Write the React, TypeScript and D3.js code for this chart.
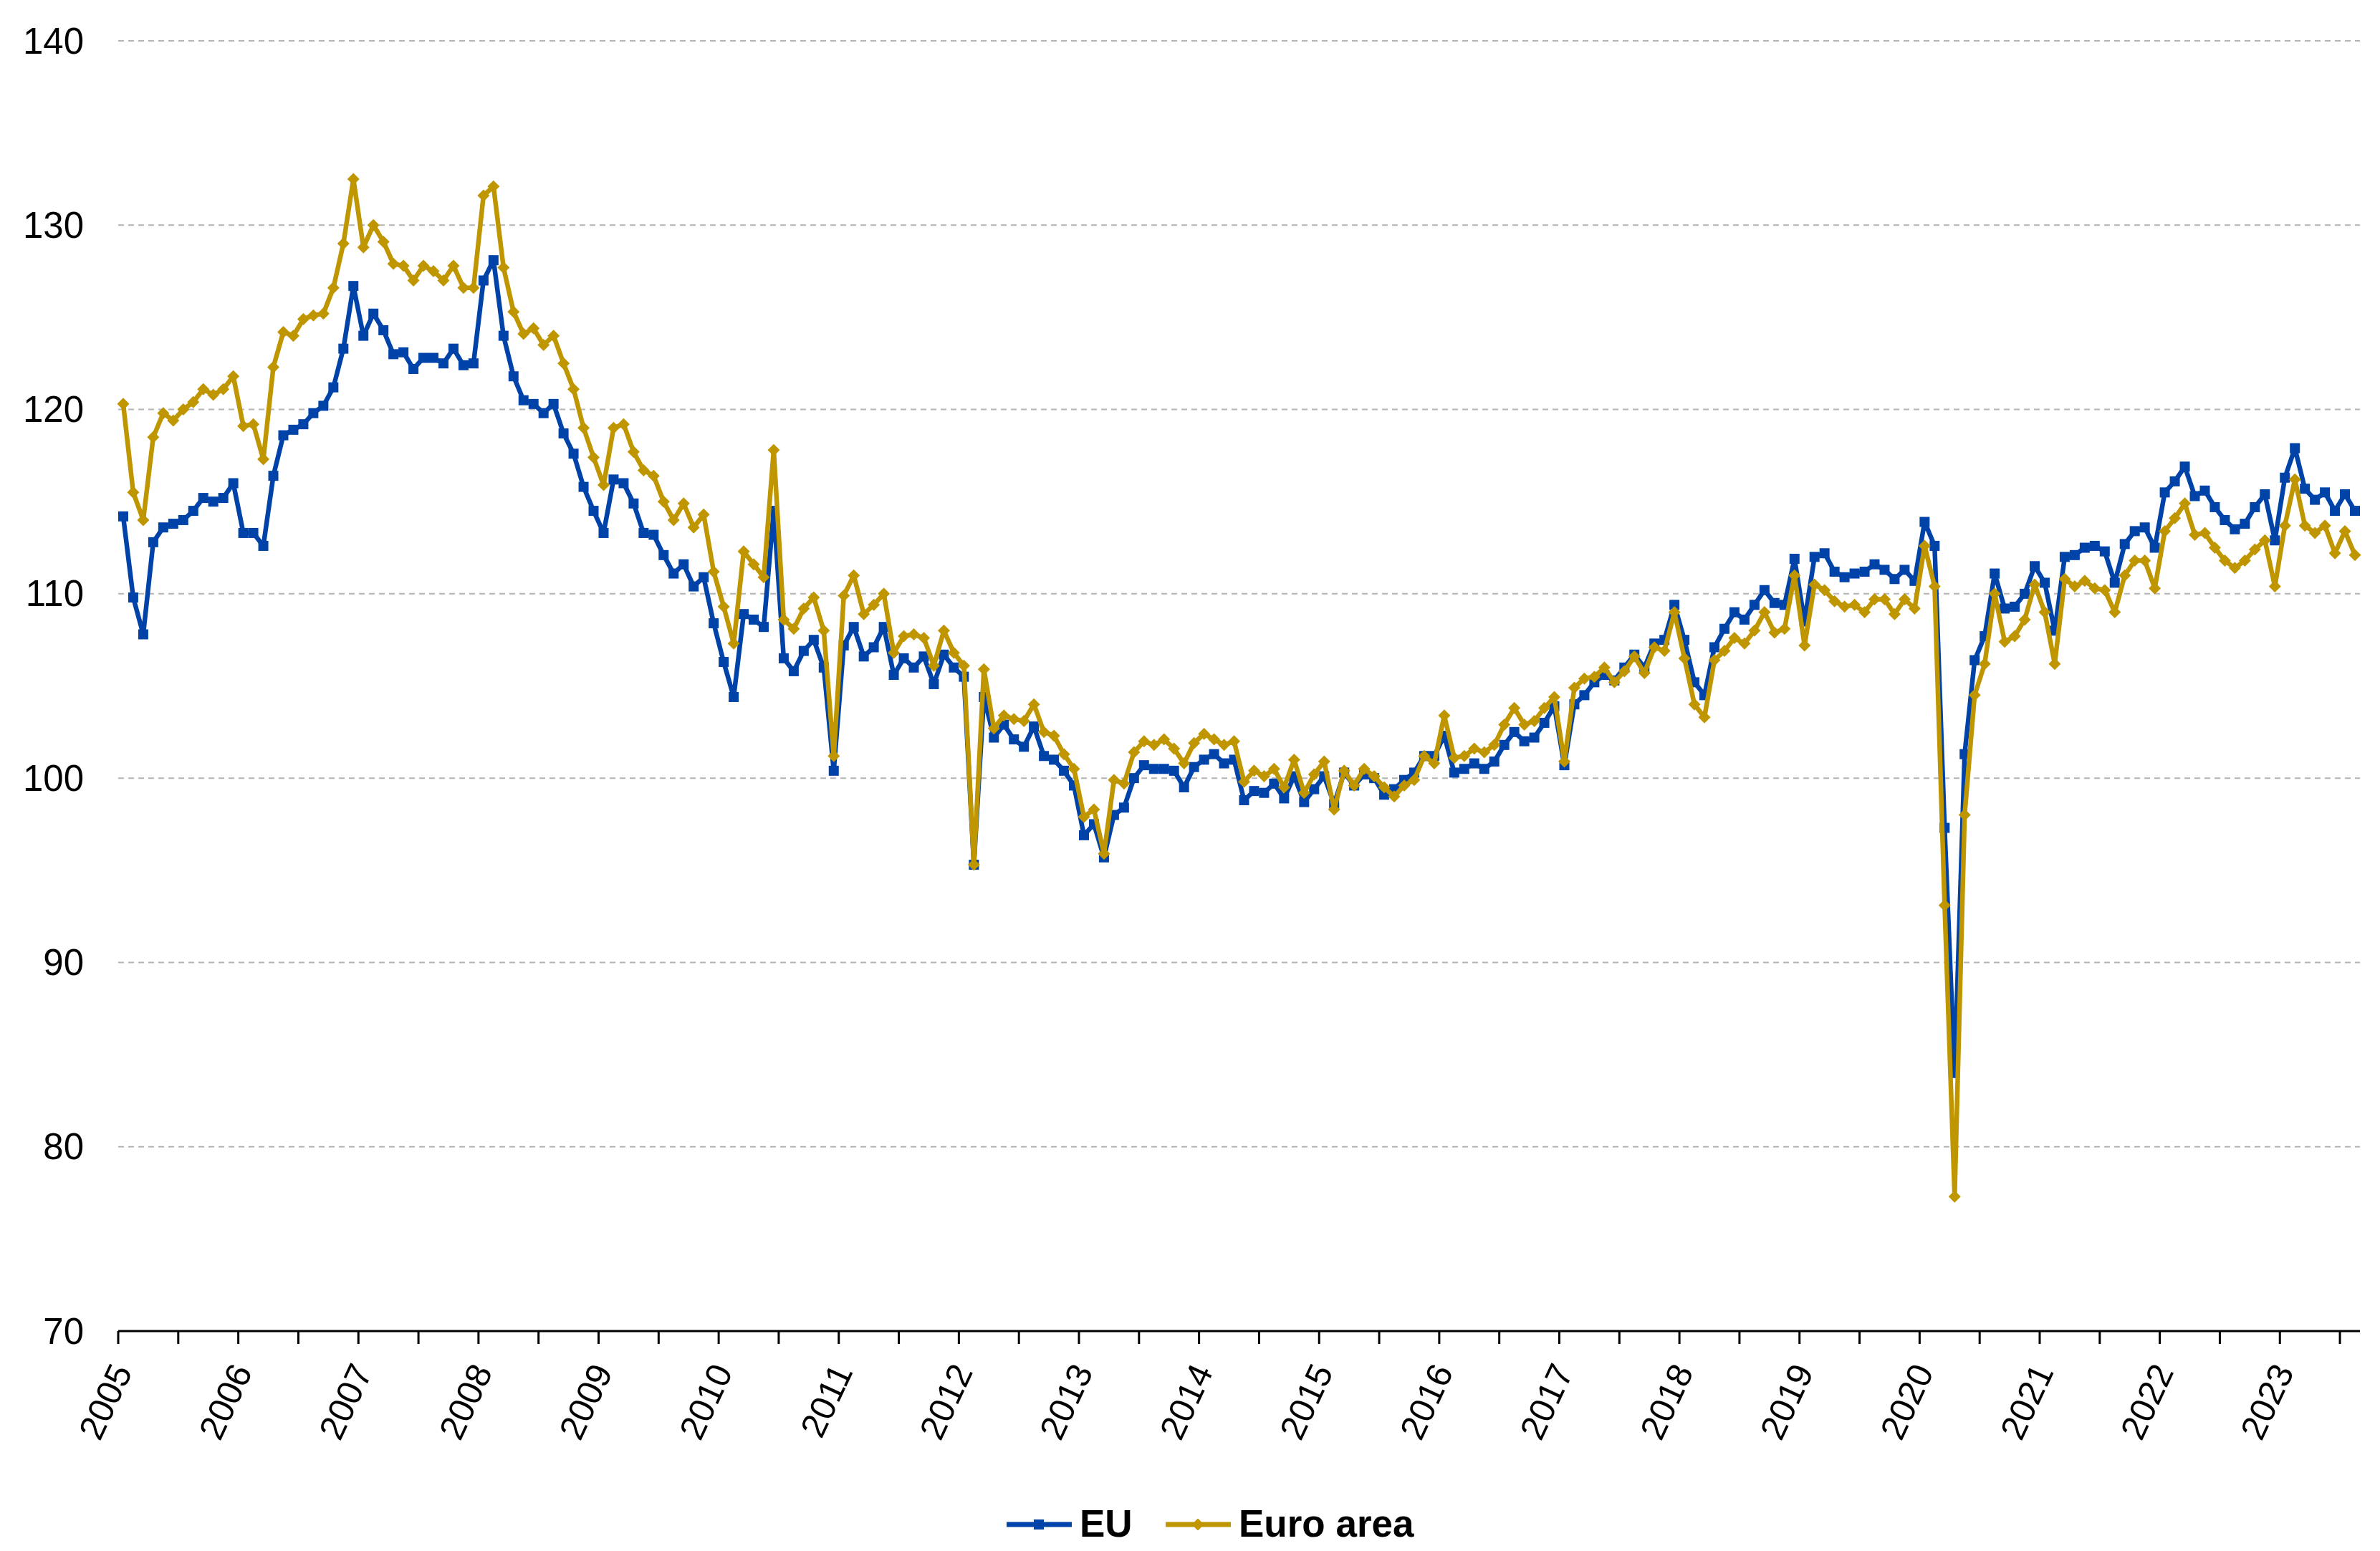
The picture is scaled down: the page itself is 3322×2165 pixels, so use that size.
import React from 'react';
import * as d3 from 'd3';

// monthly index, Jan 2005 .. Aug 2023
const EU = [
  114.2, 109.8, 107.8, 112.8, 113.6, 113.8, 114.0, 114.5, 115.2, 115.0, 115.2, 116.0,
  113.3, 113.3, 112.6, 116.4, 118.6, 118.9, 119.2, 119.8, 120.2, 121.2, 123.3, 126.7,
  124.0, 125.2, 124.3, 123.0, 123.1, 122.2, 122.8, 122.8, 122.5, 123.3, 122.4, 122.5,
  127.0, 128.1, 124.0, 121.8, 120.5, 120.3, 119.8, 120.3, 118.7, 117.6, 115.8, 114.5,
  113.3, 116.2, 116.0, 114.9, 113.3, 113.2, 112.1, 111.1, 111.6, 110.4, 110.9, 108.4,
  106.3, 104.4, 108.9, 108.6, 108.2, 114.5, 106.5, 105.8, 106.9, 107.5, 106.0, 100.4,
  107.2, 108.2, 106.6, 107.1, 108.2, 105.6, 106.5, 106.0, 106.6, 105.1, 106.7, 106.0,
  105.5, 95.3, 104.4, 102.2, 102.9, 102.1, 101.7, 102.8, 101.2, 101.0, 100.4, 99.6,
  96.9, 97.5, 95.7, 98.0, 98.4, 100.0, 100.7, 100.5, 100.5, 100.4, 99.5, 100.6,
  101.0, 101.3, 100.8, 101.0, 98.8, 99.3, 99.2, 99.7, 98.9, 100.1, 98.7, 99.4,
  100.1, 98.6, 100.3, 99.6, 100.2, 100.0, 99.1, 99.4, 99.9, 100.3, 101.2, 101.2,
  102.3, 100.3, 100.5, 100.8, 100.5, 100.9, 101.8, 102.5, 102.0, 102.2, 103.0, 103.9,
  100.7, 104.0, 104.5, 105.2, 105.6, 105.3, 106.0, 106.7, 106.0, 107.3, 107.5, 109.4,
  107.5, 105.2, 104.5, 107.1, 108.1, 109.0, 108.6, 109.4, 110.2, 109.5, 109.4, 111.9,
  108.5, 112.0, 112.2, 111.2, 110.9, 111.1, 111.2, 111.6, 111.3, 110.8, 111.3, 110.7,
  113.9, 112.6, 97.3, 84.0, 101.3, 106.4, 107.7, 111.1, 109.2, 109.3, 110.0, 111.5,
  110.6, 108.0, 112.0, 112.1, 112.5, 112.6, 112.3, 110.6, 112.7, 113.4, 113.6, 112.5,
  115.5, 116.1, 116.9, 115.3, 115.6, 114.7, 114.0, 113.5, 113.8, 114.7, 115.4, 112.9,
  116.3, 117.9, 115.7, 115.1, 115.5, 114.5, 115.4, 114.5,
];

const EURO_AREA = [
  120.3, 115.5, 114.0, 118.5, 119.8, 119.4, 120.0, 120.4, 121.1, 120.8, 121.1, 121.8,
  119.1, 119.2, 117.3, 122.3, 124.2, 124.0, 124.9, 125.1, 125.2, 126.6, 129.0, 132.5,
  128.8, 130.0, 129.1, 127.9, 127.8, 127.0, 127.8, 127.5, 127.0, 127.8, 126.6, 126.6,
  131.6, 132.1, 127.7, 125.3, 124.1, 124.4, 123.5, 124.0, 122.5, 121.1, 119.0, 117.4,
  115.9, 119.0, 119.2, 117.7, 116.7, 116.4, 115.0, 114.0, 114.9, 113.6, 114.3, 111.2,
  109.3, 107.3, 112.3, 111.6, 110.9, 117.8, 108.6, 108.1, 109.2, 109.8, 108.0, 101.2,
  109.9, 111.0, 108.9, 109.4, 110.0, 106.8, 107.7, 107.8, 107.6, 106.1, 108.0, 106.8,
  106.1, 95.3, 105.9, 102.7, 103.4, 103.2, 103.1, 104.0, 102.5, 102.3, 101.3, 100.5,
  97.9, 98.3, 95.9, 99.9, 99.7, 101.4, 102.0, 101.8, 102.1, 101.6, 100.8, 101.9,
  102.4, 102.1, 101.8, 102.0, 99.8, 100.4, 100.1, 100.5, 99.5, 101.0, 99.2, 100.2,
  100.9, 98.3, 100.4, 99.6, 100.5, 100.1, 99.5, 99.0, 99.6, 99.9, 101.2, 100.8,
  103.4, 101.1, 101.2, 101.6, 101.4, 101.8, 102.9, 103.8, 102.9, 103.1, 103.8, 104.4,
  100.9, 104.9, 105.4, 105.5, 106.0, 105.2, 105.8, 106.6, 105.7, 107.1, 106.9, 109.0,
  106.5, 104.0, 103.3, 106.4, 106.9, 107.6, 107.3, 108.0, 109.0, 107.9, 108.1, 111.0,
  107.2, 110.5, 110.2, 109.6, 109.3, 109.4, 109.0, 109.7, 109.7, 108.9, 109.7, 109.2,
  112.6, 110.4, 93.1, 77.3, 98.0, 104.5, 106.2, 110.0, 107.4, 107.7, 108.6, 110.5,
  109.0, 106.2, 110.8, 110.4, 110.7, 110.3, 110.2, 109.0, 111.0, 111.8, 111.8, 110.3,
  113.4, 114.1, 114.9, 113.2, 113.3, 112.5, 111.8, 111.4, 111.8, 112.4, 112.9, 110.4,
  113.7, 116.2, 113.7, 113.3, 113.7, 112.2, 113.4, 112.1,
];

const YEAR_LABELS = ['2005', '2006', '2007', '2008', '2009', '2010', '2011', '2012', '2013',
  '2014', '2015', '2016', '2017', '2018', '2019', '2020', '2021', '2022', '2023'];
const Y_TICKS = [70, 80, 90, 100, 110, 120, 130, 140];

const W = 3322;
const H = 2165;
const left = 165;
const right = 3294;
const top = 57;
const bottom = 1858;

const BLUE = '#0043A8';
const GOLD = '#BF9500';
const FONT = '"Liberation Sans", Arial, sans-serif';
const DIAMOND = 'M0,-8.5L8.5,0L0,8.5L-8.5,0Z';

export default function App() {
  const x = d3.scaleBand<number>()
    .domain(d3.range(EU.length))
    .range([left, right])
    .padding(0);
  const cx = (i: number) => (x(i) as number) + x.bandwidth() / 2;
  const y = d3.scaleLinear().domain([70, 140]).range([bottom, top]);

  const line = d3.line<number>()
    .x((_, i) => cx(i))
    .y(d => y(d));

  const tickIdx = d3.range(0, EU.length + 1, 6);
  const tickX = (i: number) => (i < EU.length ? (x(i) as number) : right);

  return (
    <svg width={W} height={H} style={{ position: 'absolute', left: 0, top: 0, background: '#fff' }}
      fontFamily={FONT}>
      {/* gridlines */}
      {Y_TICKS.filter(t => t > 70).map(t => (
        <line key={t} x1={left} x2={right} y1={y(t)} y2={y(t)}
          stroke="#B4B4B4" strokeWidth={2} strokeDasharray="8,6" />
      ))}
      {Y_TICKS.map(t => (
        <text key={'yl' + t} x={117} y={y(t)} textAnchor="end" dominantBaseline="central"
          fontSize={51} fill="#000">{t}</text>
      ))}

      {/* x axis */}
      <line x1={left} x2={right} y1={bottom} y2={bottom} stroke="#000" strokeWidth={3} />
      {tickIdx.map(i => (
        <line key={'t' + i} x1={tickX(i)} x2={tickX(i)} y1={bottom} y2={bottom + 18}
          stroke="#000" strokeWidth={3} />
      ))}
      {YEAR_LABELS.map((lab, k) => {
        const tx = x(k * 12) as number;
        return (
          <text key={lab} transform={`translate(${tx + 5},${bottom + 49}) rotate(-65)`}
            textAnchor="end" dominantBaseline="central" fontSize={49} fill="#000">{lab}</text>
        );
      })}

      {/* EU */}
      <path d={line(EU) || ''} fill="none" stroke={BLUE} strokeWidth={6.5} strokeLinejoin="round" />
      {EU.map((v, i) => (
        <rect key={'e' + i} x={cx(i) - 7} y={y(v) - 7} width={14} height={14} fill={BLUE} />
      ))}

      {/* Euro area */}
      <path d={line(EURO_AREA) || ''} fill="none" stroke={GOLD} strokeWidth={6.5} strokeLinejoin="round" />
      {EURO_AREA.map((v, i) => (
        <path key={'a' + i} transform={`translate(${cx(i)},${y(v)})`} d={DIAMOND} fill={GOLD} />
      ))}

      {/* legend */}
      <g>
        <line x1={1405} x2={1496} y1={2128} y2={2128} stroke={BLUE} strokeWidth={7} />
        <rect x={1443} y={2121} width={14} height={14} fill={BLUE} />
        <text x={1507} y={2126} dominantBaseline="central" fontSize={53} fontWeight="bold">EU</text>
        <line x1={1627} x2={1718} y1={2128} y2={2128} stroke={GOLD} strokeWidth={7} />
        <path transform="translate(1672,2128)" d={DIAMOND} fill={GOLD} />
        <text x={1729} y={2126} dominantBaseline="central" fontSize={53} fontWeight="bold">Euro area</text>
      </g>
    </svg>
  );
}
